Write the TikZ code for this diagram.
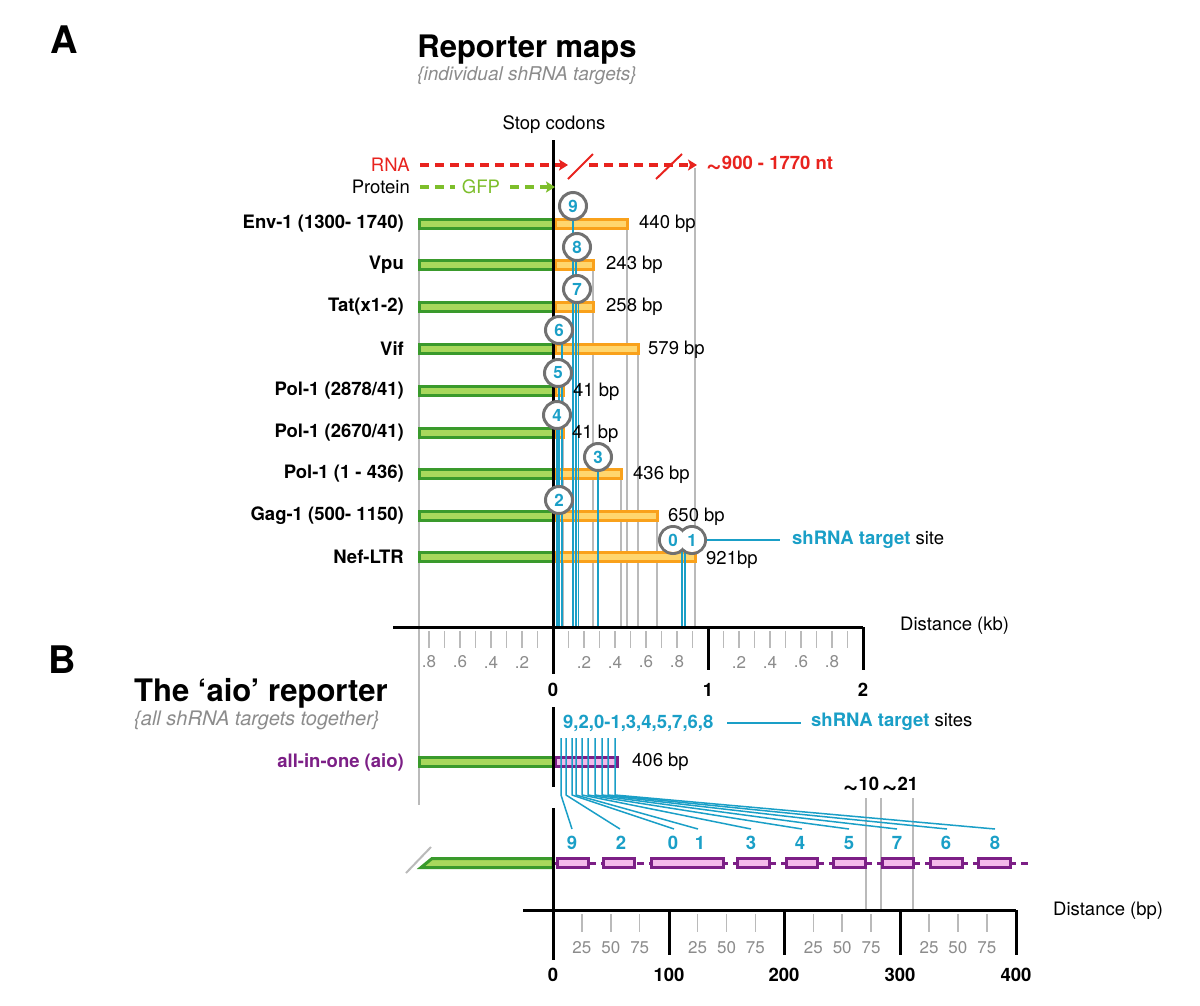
\documentclass[tikz,border=0pt]{standalone}
\usepackage{fontspec}
\setmainfont{TeX Gyre Heros}
\usetikzlibrary{arrows.meta}
\definecolor{dkgreen}{HTML}{3A9A2C}
\definecolor{ltgreen}{HTML}{A8D85C}
\definecolor{orng}{HTML}{F9A11B}
\definecolor{ltorng}{HTML}{FFD66E}
\definecolor{myblue}{HTML}{1A9FC7}
\definecolor{ringgray}{HTML}{717171}
\definecolor{guidegray}{HTML}{BABABA}
\definecolor{txtgray}{HTML}{8C8C8C}
\definecolor{myred}{HTML}{E8231E}
\definecolor{gfpgreen}{HTML}{7DBE2B}
\definecolor{purp}{HTML}{7C1F86}
\definecolor{pinkfill}{HTML}{F4B9EA}
\newcommand\myfs[1]{\fontsize{#1}{#1}\selectfont}
\newcommand\tld{{\fontsize{27}{27}\selectfont\raisebox{-3.5pt}{\textasciitilde}}}
\pgfdeclarelayer{bgl}
\pgfdeclarelayer{guides}
\pgfdeclarelayer{bars}
\pgfdeclarelayer{links}
\pgfsetlayers{bgl,guides,bars,links,main}
\tikzset{
  lbl/.style={inner sep=0pt, font=\myfs{18.5}},
  blbl/.style={inner sep=0pt, font=\bfseries\myfs{18.5}},
  axl/.style={inner sep=0pt, font=\myfs{17}, text=txtgray},
  gbar/.style={draw=dkgreen, fill=ltgreen, line width=3pt},
  obar/.style={draw=orng, fill=ltorng, line width=3pt},
  pbar/.style={draw=purp, fill=pinkfill, line width=3pt},
  guide/.style={draw=guidegray, line width=1.5pt},
  bline/.style={draw=myblue, line width=1.5pt},
  blk/.style={draw=black, line width=3pt},
  tickg/.style={draw=guidegray, line width=1.5pt},
  circ/.style={circle, draw=ringgray, line width=3pt, fill=white, minimum size=27pt, inner sep=0pt, text=myblue, font=\bfseries\myfs{17}},
  rdash/.style={draw=myred, line width=3.5pt, dash pattern=on 9pt off 6pt},
  gdash/.style={draw=gfpgreen, line width=3.5pt, dash pattern=on 9pt off 6pt},
  tipstyle/.style={-{Stealth[length=9pt,width=11pt,inset=2pt]}},
}
\begin{document}
\begin{tikzpicture}[x=1pt,y=-1pt]
\begin{pgfonlayer}{bgl}
\fill[white] (0,0) rectangle (1200,1005);
\end{pgfonlayer}
\useasboundingbox (0,0) rectangle (1200,1005);

% ---------- titles ----------
\node[inner sep=0pt, font=\bfseries\myfs{38}] (A) at (64,40) {A};
\node[inner sep=0pt, font=\bfseries\myfs{31}] (t1) at (527,50) {Reporter maps};
\node[inner sep=0pt, font=\itshape\myfs{19}, text=txtgray] (s1) at (527,76) {\{individual shRNA targets\}};
\node[inner sep=0pt, font=\bfseries\myfs{38}] (B) at (62,660) {B};
\node[inner sep=0pt, font=\bfseries\myfs{31}, anchor=west] (t2) at (134,693) {The ‘aio’ reporter};
\node[inner sep=0pt, font=\itshape\myfs{20}, text=txtgray, anchor=west] (s2) at (134,720) {\{all shRNA targets together\}};

\node[lbl] (stop) at (554,125) {Stop codons};

% ---------- RNA / Protein arrows ----------
\node[lbl, text=myred, anchor=east] (rna) at (410,165) {RNA};
\node[lbl, anchor=east] (prot) at (410,187) {Protein};
\coordinate (r0) at (420,165);
\coordinate (r1) at (568,165);
\coordinate (r2) at (589,165);
\coordinate (r3) at (697,165);
\draw[rdash, tipstyle] (r0) -- (r1);
\draw[rdash, tipstyle] (r2) -- (r3);
\draw[myred, line width=2pt] (568,179) -- (593,154);
\draw[myred, line width=2pt] (656,179) -- (682,154);
\node[blbl, text=myred, anchor=west] (nt) at (706,165) {\tld900 - 1770 nt};
\node[lbl, text=gfpgreen] (gfp) at (481,187) {GFP};
\coordinate (g0) at (420,187);
\coordinate (g1) at (455,187);
\coordinate (g2) at (510,187);
\coordinate (g3) at (555,187);
\draw[gdash] (g0) -- (g1);
\draw[gdash, tipstyle] (g2) -- (g3);

% ---------- gray guide lines ----------
\begin{pgfonlayer}{guides}
\draw[guide] (419,224) -- (419,805);
\draw[guide] (627,224) -- (627,627);
\draw[guide] (593,265) -- (593,627);
\draw[guide] (638,349) -- (638,627);
\draw[guide] (563,391) -- (563,627);
\draw[guide] (621,474) -- (621,627);
\draw[guide] (657,516) -- (657,627);
\draw[guide] (695,168) -- (695,627);
\draw[guide] (866,798) -- (866,910);
\draw[guide] (881,798) -- (881,910);
\draw[guide] (913,798) -- (913,910);
\end{pgfonlayer}

% ---------- bars part A ----------
\begin{pgfonlayer}{bars}
\foreach \y/\e in {224/627, 265/593, 307/593, 349/638, 391/563, 433/563, 474/621, 516/657, 557/695} {
  \draw[gbar] (419,{\y-4.5}) rectangle (553,{\y+4.5});
  \draw[obar] (555,{\y-4.5}) rectangle (\e,{\y+4.5});
}
\draw[gbar] (419,757.5) rectangle (553,766.5);
\draw[pbar] (555,757.5) rectangle (617,766.5);
\end{pgfonlayer}

% gene labels
\foreach \y/\t in {224/{Env-1 (1300- 1740)}, 265/Vpu, 307/{Tat(x1-2)}, 349/Vif, 391/{Pol-1 (2878/41)}, 433/{Pol-1 (2670/41)}, 474/{Pol-1 (1 - 436)}, 516/{Gag-1 (500- 1150)}, 557/Nef-LTR}
  \node[blbl, anchor=east] at (404,\y) {\t};
\foreach \x/\y/\t in {639/224/440 bp, 606/265/243 bp, 606/307/258 bp, 648/350/579 bp, 573/392/41 bp, 572/434/41 bp, 633/475/436 bp, 668/517/650 bp, 706/560/921bp}
  \node[lbl, anchor=west] at (\x,\y) {\t};

% ---------- circles ----------
\node[circ] (c9) at (573,206) {9};
\node[circ] (c8) at (577,247) {8};
\node[circ] (c7) at (577,289) {7};
\node[circ] (c6) at (559,330) {6};
\node[circ] (c5) at (558,373) {5};
\node[circ] (c4) at (557,415) {4};
\node[circ] (c3) at (598,457) {3};
\node[circ] (c2) at (559,500) {2};
\node[circle, draw=ringgray, line width=3pt, minimum size=27pt, inner sep=0pt] (c0) at (673,540) {};
\node[circle, draw=ringgray, line width=3pt, minimum size=27pt, inner sep=0pt] (c1) at (692,540) {};
\fill[white] (c0.center) circle (12) (c1.center) circle (12);
\node[inner sep=0pt, text=myblue, font=\bfseries\myfs{17}] at (c0.center) {0};
\node[inner sep=0pt, text=myblue, font=\bfseries\myfs{17}] at (c1.center) {1};

\coordinate (axA) at (0,627);
\begin{pgfonlayer}{links}
\draw[bline] (c9.center) -- (c9.center |- axA);
\draw[bline] ([xshift=-1pt]c8.center) -- ([xshift=-1pt]c8.center |- axA);
\draw[bline] ([xshift=1.5pt]c7.center) -- ([xshift=1.5pt]c7.center |- axA);
\draw[bline] ([xshift=3pt]c6.center) -- ([xshift=3pt]c6.center |- axA);
\draw[bline] ([xshift=1pt]c5.center) -- ([xshift=1pt]c5.center |- axA);
\draw[bline] ([xshift=0pt]c4.center) -- ([xshift=0pt]c4.center |- axA);
\draw[bline] (c3.center) -- (c3.center |- axA);
\draw[bline] ([xshift=-2.5pt]c2.center) -- ([xshift=-2.5pt]c2.center |- axA);
\draw[bline] (682,546) -- (682,627);
\draw[bline] (685,546) -- (685,627);
\draw[blk] (553,140) -- (553,674);
\end{pgfonlayer}

% shRNA target site label
\node[lbl, anchor=west] (site) at (792,540) {\textcolor{myblue}{\bfseries shRNA target} site};
\draw[bline] (c1.east) -- (site.west -| 780,0);

% ---------- kb axis ----------
\draw[blk] (393,627) -- (863,627);
\draw[blk] (708,627) -- (708,670);
\draw[blk] (863,627) -- (863,670);
\foreach \k in {1,...,8} \draw[tickg] ({553-15.5*\k},631) -- ({553-15.5*\k},648);
\foreach \k in {1,...,9} {
  \draw[tickg] ({553+15.5*\k},631) -- ({553+15.5*\k},648);
  \draw[tickg] ({708+15.5*\k},631) -- ({708+15.5*\k},648);
}
\foreach \v/\k in {.8/8,.6/6,.4/4,.2/2} {
  \node[axl] at ({553-15.5*\k},662) {\v};
  \node[axl] at ({553+15.5*\k},662) {\v};
  \node[axl] at ({708+15.5*\k},662) {\v};
}
\node[blbl] at (553,690) {0};
\node[blbl] at (708,690) {1};
\node[blbl] at (863,690) {2};
\node[lbl, anchor=west] at (900,626) {Distance (kb)};

% ---------- part B: aio bar ----------
\node[blbl, text=purp, anchor=east] at (404,762) {all-in-one (aio)};
\node[lbl, anchor=west] at (632,762) {406 bp};
\node[blbl, text=myblue, anchor=west] (sites) at (563,723) {9,2,0-1,3,4,5,7,6,8};
\node[lbl, anchor=west] (sitestxt) at (811,722) {\textcolor{myblue}{\bfseries shRNA target} sites};
\draw[bline] (727,723) -- (801,723);

\begin{pgfonlayer}{links}
\draw[blk] (553,707) -- (553,787);
\foreach \x/\ex/\n in {561/572/9, 566/620/2, 572/674/0, 576/698/1, 582/751/3, 588/802/4, 595/849/5, 602/897/7, 608/947/6, 615/995/8} {
  \coordinate (f\n) at (\ex,829);
  \draw[bline, line join=round] (\x,738) -- (\x,795) -- (f\n);
}
\end{pgfonlayer}
\foreach \ex/\n in {572/9, 621/2, 673/0, 700/1, 751/3, 800/4, 849/5, 897/7, 946/6, 995/8}
  \node[blbl, text=myblue] (n\n) at (\ex,843) {\n};

\node[blbl] at (861,786) {\tld10};
\node[blbl] at (900,786) {\tld21};

% ---------- bottom detailed bar ----------
\begin{pgfonlayer}{bars}
\draw[draw=purp, line width=3pt, dash pattern=on 7pt off 5pt] (553,863) -- (1030,863);
\foreach \a/\b in {557/588, 603/634, 651/723, 737/769, 786/817, 833/865, 882/913, 930/962, 978/1010}
  \draw[pbar] (\a,858.5) rectangle (\b,867.5);
\draw[gbar] (432,858.5) -- (553,858.5) -- (553,867.5) -- (421,867.5) -- cycle;
\end{pgfonlayer}
\draw[guidegray, line width=2pt] (406,873) -- (431,847);
\draw[blk] (553,808) -- (553,960);

% ---------- bp axis ----------
\draw[blk] (523,910) -- (1016,910);
\foreach \x in {669,784,900,1016} \draw[blk] (\x,910) -- (\x,955);
\foreach \m in {0,1,2,3} {
  \foreach \k/\v in {1/25,2/50,3/75} {
    \draw[tickg] ({553+115.7*\m+28.9*\k},914) -- ({553+115.7*\m+28.9*\k},932);
    \node[axl] at ({553+115.7*\m+28.9*\k},948) {\v};
  }
}
\foreach \x/\t in {553/0, 669/100, 784/200, 900/300, 1016/400}
  \node[blbl] at (\x,975) {\t};
\node[lbl, anchor=west] at (1053,911) {Distance (bp)};
\end{tikzpicture}
\end{document}
